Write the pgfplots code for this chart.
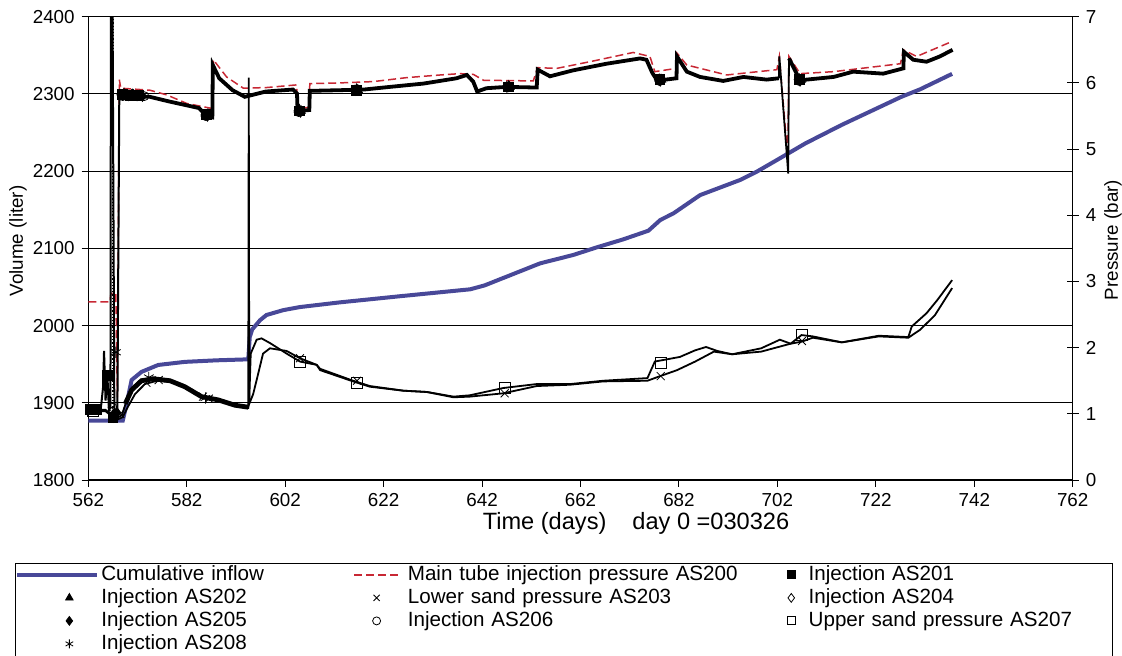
\documentclass[border=0pt]{standalone}
\usepackage{fontspec}
\setmainfont{Liberation Sans}
\usepackage{pgfplots}
\usepackage{pgfplotstable}
\pgfplotsset{compat=1.18}
\definecolor{inflow}{RGB}{72,72,152}
\definecolor{tube}{RGB}{200,40,52}

\pgfplotstableread{
day vol
562.0 1876.8
569.0 1876.8
569.8 1899
570.8 1929.5
572.8 1940
576.2 1949
581.6 1953
588.0 1955
594.5 1956.3
594.8 1985
595.3 1995
596.9 2007
598.2 2013.7
601.6 2020
605.0 2024
613.0 2030
625.3 2038
639.6 2047
642.5 2052
653.8 2080.6
660.5 2091.4
665.3 2101.3
670.7 2111.7
675.8 2122.9
678.2 2136.7
680.9 2145.4
686.3 2169
689.0 2175.5
694.4 2188.5
697.8 2199.3
701.9 2214.4
707.7 2236
715.1 2260
727.1 2296
731.0 2306
737.5 2326
}\inflowtab

\pgfplotstableread{
day p
562.0 2.69
566.4 2.69
566.6 2.82
567.6 2.82
567.9 1.25
568.3 6.05
568.6 5.92
574.5 5.89
577.9 5.82
582.0 5.69
586.7 5.62
587.3 5.62
587.4 6.35
590.1 6.09
593.5 5.92
598.2 5.93
604.3 5.97
604.5 5.75
604.8 5.62
606.9 5.63
607.0 5.99
613.1 6.00
619.9 6.02
626.7 6.08
633.5 6.12
637.5 6.14
640.2 6.13
642.3 6.04
652.4 6.03
653.3 6.23
657.2 6.22
663.9 6.32
672.7 6.46
676.1 6.40
677.1 6.17
681.5 6.22
681.6 6.45
683.6 6.27
691.7 6.12
701.9 6.20
702.4 6.40
704.1 4.88
704.35 6.40
706.6 6.14
713.4 6.17
727.0 6.29
727.6 6.50
730.3 6.40
737.6 6.63
}\tubetab

% injection pressure, start-up part (thin)
\pgfplotstableread{
day p
562.0 1.08
563.5 1.10
564.6 1.12
565.0 1.40
565.2 1.95
565.5 1.20
565.9 1.55
566.2 1.05
566.5 1.12
566.6 7.6
566.9 7.6
567.3 0.90
567.9 0.95
568.3 5.82
}\injtabA

% injection pressure, main part (thick)
\pgfplotstableread{
day p
568.3 5.82
570.0 5.80
574.5 5.79
578.4 5.72
584.5 5.62
586.0 5.50
587.2 5.48
587.3 6.27
588.6 6.07
591.3 5.89
593.8 5.79
595.4 5.82
598.1 5.87
603.6 5.90
604.4 5.84
604.5 5.62
604.8 5.58
606.9 5.59
607.0 5.88
613.1 5.89
618.0 5.90
623.3 5.94
630.1 5.99
636.8 6.07
638.9 6.12
640.2 6.02
641.0 5.87
642.9 5.92
647.0 5.94
653.1 5.93
653.3 6.20
655.8 6.10
660.5 6.19
667.3 6.29
674.1 6.37
675.4 6.35
676.6 6.15
677.3 6.07
678.2 6.04
681.5 6.07
681.6 6.40
683.6 6.17
686.3 6.09
691.0 6.03
695.1 6.09
699.8 6.05
702.3 6.07
}\injtabB

% injection pressure, dip near day 703 (thin)
\pgfplotstableread{
day p
702.3 6.07
702.4 6.40
704.2 4.63
704.35 6.37
}\injtabC

% injection pressure, last part (thick)
\pgfplotstableread{
day p
704.35 6.37
706.6 6.04
713.4 6.09
717.4 6.17
723.5 6.14
727.6 6.22
727.7 6.47
729.6 6.35
732.3 6.32
735.0 6.40
737.6 6.50
}\injtabD

\pgfplotstableread{
day p
562.0 1.06
565.5 1.06
566.5 1.00
567.5 0.92
568.8 0.98
569.8 1.20
570.8 1.39
572.8 1.52
575.2 1.54
578.6 1.51
581.6 1.41
585.0 1.26
588.4 1.21
591.8 1.13
594.5 1.10
594.7 1.21
595.0 1.91
596.2 2.12
597.2 2.14
598.9 2.07
602.3 1.91
605.0 1.79
608.4 1.74
609.1 1.66
615.8 1.49
619.2 1.41
626.0 1.35
630.8 1.33
636.2 1.26
639.5 1.28
646.3 1.39
653.1 1.45
659.9 1.45
666.6 1.50
675.6 1.54
677.1 1.79
679.3 1.82
682.2 1.86
685.3 1.96
687.5 2.01
689.8 1.95
692.8 1.90
698.7 1.99
702.5 2.12
704.7 2.06
706.9 2.19
709.2 2.17
715.1 2.08
722.6 2.18
728.6 2.16
729.3 2.32
732.3 2.52
734.5 2.72
737.5 3.02
}\uppersandtab

\pgfplotstableread{
day p
562.0 1.04
565.5 1.04
566.5 0.98
567.5 0.90
569.0 0.95
570.0 1.10
571.5 1.30
573.5 1.45
576.0 1.50
579.0 1.48
581.6 1.40
585.0 1.25
588.4 1.20
591.8 1.12
594.5 1.09
594.6 6.08
594.7 1.15
595.5 1.30
596.2 1.51
597.5 1.91
598.9 1.99
602.3 1.95
605.0 1.84
608.4 1.74
609.1 1.68
615.8 1.50
619.2 1.42
626.0 1.35
630.8 1.33
636.2 1.25
639.5 1.26
646.3 1.31
653.1 1.42
659.9 1.44
666.6 1.49
675.6 1.50
677.8 1.56
681.6 1.66
685.3 1.79
689.1 1.94
692.8 1.90
698.7 1.94
704.7 2.06
706.9 2.09
709.2 2.15
715.1 2.08
722.6 2.17
728.6 2.15
731.0 2.27
734.0 2.49
737.5 2.90
}\lowersandtab

\pgfplotsset{
  common/.style={at={(44.15pt,-240pt)}, anchor=south west, scale only axis,
    width=492.2pt, height=231.65pt, xmin=562, xmax=762,
    /pgf/number format/assume math mode=true, /pgf/number format/1000 sep={},
    tick label style={font=\fontsize{9.4}{11}\selectfont},
    label style={font=\fontsize{9.4}{11}\selectfont},
    axis line style={line width=0.6pt}, tick style={black, line width=0.5pt}},
  lline1/.style={legend image code/.code={\path (0pt,0pt) (40pt,0pt); \draw[##1] (0pt,0pt) -- (40pt,0pt);}},
  lline2/.style={legend image code/.code={\path (0pt,0pt) (22.5pt,0pt); \draw[##1] (0pt,0pt) -- (22.5pt,0pt);}},
  lmark1/.style={legend image code/.code={\path (0pt,0pt) (40pt,0pt); \draw[##1] plot coordinates {(26pt,0pt)};}},
  lmark2/.style={legend image code/.code={\path (0pt,0pt) (22.5pt,0pt); \draw[##1] plot coordinates {(11.25pt,0pt)};}},
  lmark3/.style={legend image code/.code={\path (0pt,0pt) (15pt,0pt); \draw[##1] plot coordinates {(7.5pt,0pt)};}},
  lnone/.style={legend image code/.code={\path (0pt,0pt);}},
}

\begin{document}
\begin{tikzpicture}
\path[use as bounding box] (0pt,0pt) rectangle (561pt,-327.5pt);
\begin{axis}[common, ymin=1800, ymax=2400, ytick={1800,1900,...,2400},
  xtick={562,582,...,762}, tick pos=left, tick align=outside, major tick length=3.3pt,
  ymajorgrids, grid style={black, line width=0.5pt},
  ylabel={Volume (liter)}, ylabel style={at={(axis description cs:-0.0714,0.516)}, anchor=center},
  xlabel={Time (days)\hspace{1.1em}day 0 =030326},
  xlabel style={at={(axis description cs:0.5564,-0.0928)}, anchor=center, font=\fontsize{11.8}{14}\selectfont}]
\addplot[inflow, line width=2pt] table[x=day, y=vol] {\inflowtab};
\end{axis}
\begin{axis}[common, ymin=0, ymax=7, ytick={0,...,7}, axis x line=none, axis y line*=right,
  tick align=center, major tick length=6pt,
  ylabel={Pressure (bar)}, ylabel style={at={(axis description cs:1.041,0.518)}, anchor=center},
  legend columns=3, legend cell align=left,
  legend style={at={(-0.0745,-0.1791)}, anchor=north west, draw=black, fill=white,
    inner sep=0pt, row sep=0pt, column sep=0pt, font=\fontsize{10.3}{12}\selectfont,
    nodes={inner xsep=1pt, inner ysep=1pt, text height=7.5pt, text depth=2pt},
    /tikz/column 2/.style={text width=125pt},
    /tikz/column 3/.style={column sep=3pt},
    /tikz/column 4/.style={text width=183pt},
    /tikz/column 6/.style={text width=151pt}}]
\addplot[tube, line width=0.75pt, dash pattern=on 4pt off 2pt, forget plot] table[x=day, y=p] {\tubetab};
\addplot[black, line width=1.0pt, forget plot] table[x=day, y=p] {\injtabA};
\addplot[black, line width=1.9pt, forget plot] table[x=day, y=p] {\injtabB};
\addplot[black, line width=0.9pt, forget plot] table[x=day, y=p] {\injtabC};
\addplot[black, line width=1.9pt, forget plot] table[x=day, y=p] {\injtabD};
\addplot[black, densely dotted, line width=0.6pt, forget plot] coordinates {(567.0,0.9) (567.0,7.6)};
\addplot[black, line width=0.9pt, forget plot] table[x=day, y=p] {\uppersandtab};
\addplot[black, line width=0.9pt, forget plot] table[x=day, y=p] {\lowersandtab};
\addplot[black, line width=2.4pt, forget plot] coordinates {(569.5,1.15) (570.8,1.36) (572.8,1.50) (575.2,1.53) (578.6,1.50) (581.6,1.41) (585.0,1.26) (588.4,1.21) (591.8,1.13) (594.5,1.10)};
% markers
\addplot[black, only marks, mark=square*, mark size=2.4pt, forget plot] coordinates {(562.4,1.07) (563.6,1.07) (565.9,1.58) (567.0,0.95) (568.9,5.83) (570.5,5.81) (572.2,5.81) (586.0,5.52) (604.9,5.58) (616.5,5.89) (647.3,5.94) (678.1,6.05) (706.5,6.05)};
\addplot[black, only marks, mark=triangle*, mark size=2.6pt, forget plot] coordinates {(567.3,1.0) (569.2,5.83) (570.8,5.82) (572.5,5.81) (586.3,5.53) (605.2,5.58) (616.8,5.89) (647.6,5.94) (678.4,6.05) (706.8,6.05)};
\addplot[black, only marks, mark=diamond, mark size=2.6pt, forget plot] coordinates {(566.7,1.02) (568.6,5.82) (570.2,5.81) (571.9,5.81) (585.7,5.52) (604.6,5.58) (616.2,5.89) (647.0,5.94) (677.8,6.05) (706.2,6.05)};
\addplot[black, only marks, mark=diamond*, mark size=2.6pt, forget plot] coordinates {(567.8,1.02) (569.6,5.82) (571.2,5.82) (573.0,5.80) (586.2,5.50) (605.1,5.56) (616.6,5.90) (647.4,5.95) (678.2,6.03) (706.6,6.03)};
\addplot[black, only marks, mark=o, mark size=2.2pt, forget plot] coordinates {(566.9,1.1) (569.0,5.80) (571.5,5.80) (573.4,5.80) (585.8,5.50) (604.7,5.56) (616.4,5.88) (647.2,5.93) (678.0,6.03) (706.4,6.03)};
\addplot[black, only marks, mark=asterisk, mark size=2.8pt, forget plot] coordinates {(567.6,1.93) (574.3,1.55) (585.8,1.24) (569.3,5.84) (571.0,5.83) (586.0,5.52) (604.9,5.60) (616.5,5.91) (647.3,5.96) (678.1,6.06) (706.5,6.06)};
\addplot[black, only marks, mark=x, mark size=2.8pt, forget plot] coordinates {(568.5,1.0) (573.8,1.47) (576.3,1.51) (585.3,1.26) (586.5,1.23) (605.0,1.84) (616.6,1.50) (646.6,1.31) (678.3,1.57) (707.0,2.10)};
\addplot[black, only marks, mark=square, mark size=2.8pt, forget plot] coordinates {(563.0,1.05) (605.0,1.79) (616.6,1.47) (646.6,1.39) (678.3,1.77) (707.0,2.19)};
% legend
\addlegendimage{lline1, inflow, line width=2pt}
\addlegendentry{Cumulative inflow}
\addlegendimage{lline2, tube, line width=0.75pt, dash pattern=on 4pt off 2pt}
\addlegendentry{Main tube injection pressure AS200}
\addlegendimage{lmark3, black, mark=square*, mark size=2pt}
\addlegendentry{Injection AS201}
\addlegendimage{lmark1, black, mark=triangle*, mark size=2.2pt}
\addlegendentry{Injection AS202}
\addlegendimage{lmark2, black, mark=x, mark size=2.2pt}
\addlegendentry{Lower sand pressure AS203}
\addlegendimage{lmark3, black, mark=diamond, mark size=2.2pt}
\addlegendentry{Injection AS204}
\addlegendimage{lmark1, black, mark=diamond*, mark size=2.2pt}
\addlegendentry{Injection AS205}
\addlegendimage{lmark2, black, mark=o, mark size=2pt}
\addlegendentry{Injection AS206}
\addlegendimage{lmark3, black, mark=square, mark size=2pt}
\addlegendentry{Upper sand pressure AS207}
\addlegendimage{lmark1, black, mark=asterisk, mark size=2.2pt}
\addlegendentry{Injection AS208}
\addlegendimage{lnone}
\addlegendentry{}
\addlegendimage{lnone}
\addlegendentry{}
\addlegendimage{lnone}
\addlegendentry{}
\end{axis}
\end{tikzpicture}
\end{document}
